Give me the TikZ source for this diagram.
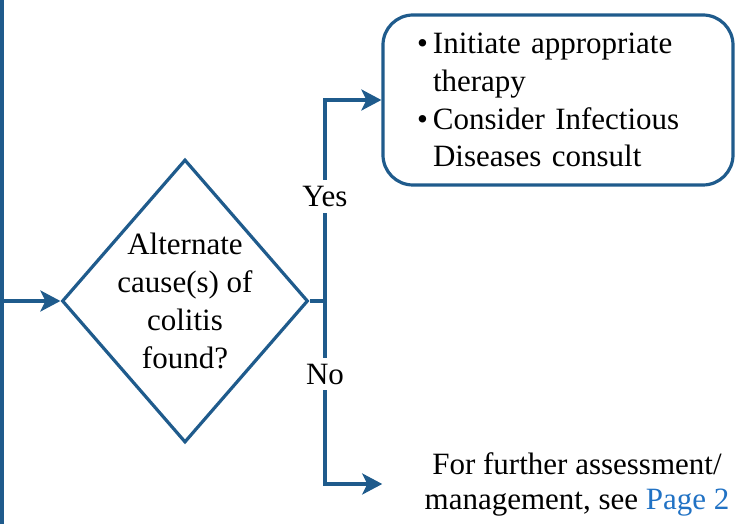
\documentclass[tikz,border=0pt]{standalone}
\usepackage{fontspec}
\setmainfont{Liberation Serif}
\usetikzlibrary{arrows.meta, shapes.geometric}
\definecolor{flowline}{RGB}{31,91,140}
\definecolor{pagelink}{RGB}{33,114,196}

\begin{document}
\begin{tikzpicture}[
  x=0.5pt, y=-0.5pt,
  >={Stealth[length=10pt, width=10.5pt, inset=2.5pt]},
  font=\fontsize{15.5}{18.9}\selectfont,
  flow/.style={draw=flowline, line width=1.6pt},
  decision/.style={draw=flowline, line width=1.6pt, diamond, aspect=0.87, inner sep=-2pt, minimum width=123pt, minimum height=141.5pt, align=center},
  action/.style={draw=flowline, line width=1.6pt, rectangle, rounded corners=15pt, minimum width=175pt, minimum height=85pt, text width=141pt, align=left},
  outcome/.style={align=center, inner xsep=21pt, font=\fontsize{15.5}{17.5}\selectfont},
  answer/.style={fill=white, inner sep=3pt}
]
  \useasboundingbox (0,0) rectangle (752,524);

  % Bloques
  \node[decision] (decide) at (185,301) {\raisebox{-2.5pt}{\parbox{70pt}{\centering Alternate\\cause(s) of\\colitis\\found?}}};
  \node[action] (actbox) at (558,100) {\textbullet\,Initiate appropriate\\
    \phantom{\textbullet\,}therapy\\
    \textbullet\,Consider Infectious\\
    \phantom{\textbullet\,}Diseases consult};
  \node[outcome] (further) at (577,484) {For further assessment/\\management, see \textcolor{pagelink}{Page 2}};

  % Puntos de paso
  \coordinate (trunktop) at (2,0);
  \coordinate (trunkbot) at (2,524);
  \coordinate (feed) at (2,301);
  \coordinate (split) at (325,301);

  % Conexiones
  \draw[flow] (trunktop) -- (trunkbot);
  \draw[flow, ->] (feed) -- (decide.west);
  \draw[flow] (decide.east) -- (split);
  \draw[flow, ->] (split) |- node[answer, pos=0.26] (yes) {Yes} (actbox.west);
  \draw[flow, ->] (split) |- node[answer, pos=0.2] (no) {No} (further.west);

\end{tikzpicture}
\end{document}
